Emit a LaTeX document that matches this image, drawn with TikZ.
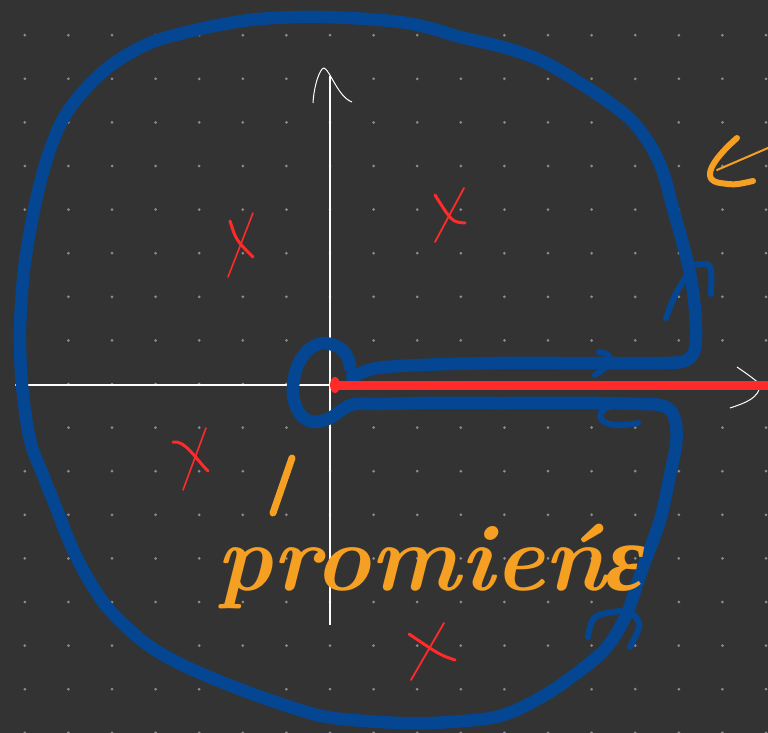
\documentclass[tikz,border=0pt]{standalone}
\usepackage{fontspec}
\newfontfamily\grkfont{Liberation Serif}
\definecolor{bgc}{RGB}{51,51,51}
\definecolor{bluec}{RGB}{4,70,145}
\definecolor{redc}{RGB}{255,43,43}
\definecolor{orngc}{RGB}{245,160,35}
\definecolor{dotc}{RGB}{140,140,140}
\begin{document}
\begin{tikzpicture}[x=1pt,y=-1pt,
  contour/.style={draw=bluec,line width=12.5pt,line cap=round,line join=round},
  hook/.style={draw=bluec,line width=6pt,line cap=round},
  polestroke/.style={draw=redc,line cap=round},
  axisline/.style={draw=white,line width=1.2pt},
  ink/.style={draw=orngc,line cap=round}]
\useasboundingbox (0,0) rectangle (768,733);
\fill[bgc] (0,0) rectangle (768,733);
% dot grid
\foreach \i in {-7,...,10}
  \foreach \j in {-8,...,8}
    \fill[dotc] ({330+43.6*\i},{384+43.6*\j}) circle (1.5);
% axes
\coordinate (O) at (330,385);
\coordinate (ytop) at (330,76);
\coordinate (ybot) at (330,625);
\coordinate (xl) at (15,385);
\coordinate (xr) at (760,385);
\draw[axisline] (ybot) -- (ytop);
\draw[axisline] (xl) -- (xr);
\draw[draw=white,line width=1pt] (313,103) .. controls (314,85) and (320,68) .. (324,68) .. controls (330,70) and (338,97) .. (352,102);
\draw[draw=white,line width=1pt] (737,367) .. controls (750,376) .. (760,384) .. controls (760,398) and (745,403) .. (730,408);
% contour
\draw[contour] plot[smooth,tension=0.55] coordinates {
 (352,377) (372,369) (400,366) (450,364) (500,363) (560,363) (620,363) (665,363)
 (685,361) (694,352) (696,335) (695,310) (692,285) (687,260) (681,237) (672,205)
 (664,175) (652,148) (633,122) (610,103) (580,83) (550,65) (525,54) (495,45)
 (460,37) (430,28) (400,22) (350,18) (300,17) (250,20) (200,29) (150,43)
 (110,66) (80,95) (60,125) (45,165) (33,215) (24,270) (20,330) (22,385)
 (30,440) (43,475) (57,510) (70,543) (87,577) (107,607) (133,633) (160,653)
 (200,673) (250,693) (300,710) (333,718) (400,723) (450,722) (500,716) (540,698)
 (577,673) (607,647) (627,613) (643,567) (660,520) (670,475) (676,445) (676,425)
 (671,411) (660,405) (640,404) (600,403) (500,403) (420,403) (380,404) (355,404)
 (343,409) (330,418) (313,422) (300,414) (293,395) (296,370) (307,351) (323,343)
 (340,348) (348,358) (350,367)};
% direction hooks
\draw[hook] (599,352) .. controls (613,354) and (616,362) .. (595,375);
\draw[hook] (666,318) .. controls (674,296) .. (690,270);
\draw[hook] (695,265) .. controls (712,262) .. (711,294);
\draw[hook] (612,406) .. controls (592,410) and (595,432) .. (638,423);
\draw[hook] (588,637) .. controls (592,615) .. (620,611);
\draw[hook] (633,614) .. controls (642,624) .. (630,647);
% branch cut
\draw[polestroke,line width=9pt,line cap=butt] (334,385) -- (768,385);
\fill[redc] (335,385) ellipse (5 and 8);
% poles
\draw[polestroke,line width=3pt] (230,221) .. controls (236,240) .. (253,257);
\draw[polestroke,line width=1.6pt] (253,213) -- (228,277);
\draw[polestroke,line width=3pt] (435,195) .. controls (452,222) .. (465,223);
\draw[polestroke,line width=1.8pt] (464,188) -- (435,242);
\draw[polestroke,line width=3pt] (173,442) .. controls (185,440) and (195,458) .. (208,471);
\draw[polestroke,line width=1.6pt] (206,428) -- (183,490);
\draw[polestroke,line width=3pt] (409,634) .. controls (440,655) .. (455,660);
\draw[polestroke,line width=1.8pt] (444,623) -- (411,680);
% orange annotations
\draw[ink,line width=7pt] (292,458) -- (273,513);
\node[anchor=base west,inner sep=0pt,text=orngc] (label) at (216,590)
  {\fontsize{95}{95}\selectfont\bfseries\itshape promie\'n{\grkfont\bfseries\itshape ε}};
\draw[ink,line width=6pt] (737,138) .. controls (712,160) and (700,180) .. (720,183) .. controls (735,185) .. (753,181);
\draw[ink,line width=2pt] (717,170) -- (768,148);
\end{tikzpicture}
\end{document}
